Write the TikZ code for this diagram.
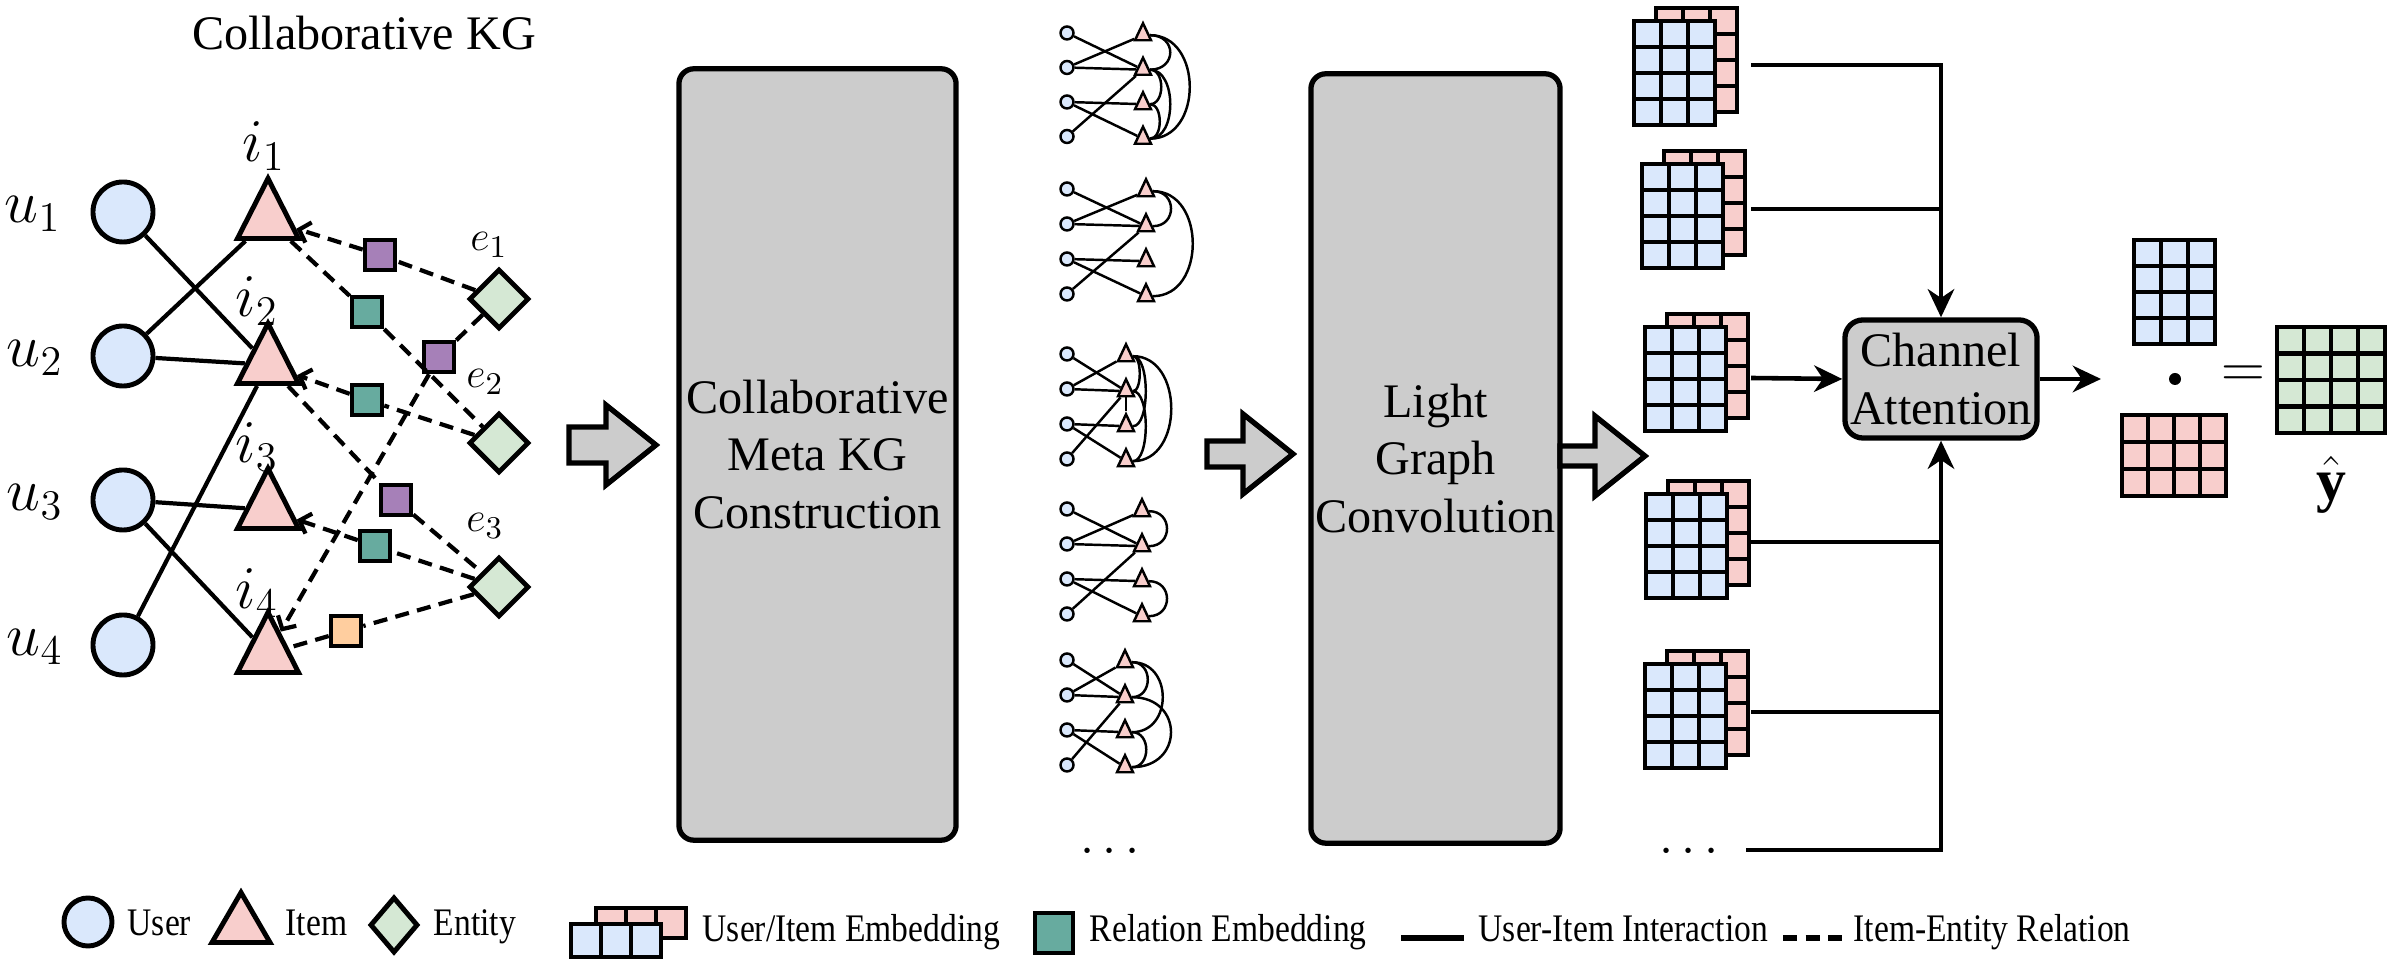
\documentclass[tikz,border=0pt]{standalone}
\usepackage{fontspec}
\setmainfont{Liberation Serif}
\newfontfamily\legenda[FakeStretch=0.86]{Liberation Serif}
\usetikzlibrary{arrows.meta,shapes.geometric}

\definecolor{blu}{HTML}{DAE8FC}
\definecolor{rosa}{HTML}{F8CECC}
\definecolor{verde}{HTML}{D5E8D4}
\definecolor{grigio}{HTML}{CCCCCC}
\definecolor{viola}{HTML}{A680B8}
\definecolor{verdeacqua}{HTML}{67AB9F}
\definecolor{arancio}{HTML}{FFCE9F}

\newcommand{\testo}{\fontsize{13.7}{16.4}\selectfont}

% Griglia: x, y (in alto a sinistra), colonne, righe, cella x, cella y, colore
\newcommand{\griglia}[7]{%
  \filldraw[fill=#7, line width=1.4pt] (#1,#2) rectangle ++(#3*#5,#4*#6);
  \foreach \colonna in {1,...,#3} \draw[line width=1.4pt] ({#1+\colonna*#5},#2) -- ++(0,#4*#6);
  \foreach \riga in {1,...,#4} \draw[line width=1.4pt] (#1,{#2+\riga*#6}) -- ++(#3*#5,0);
}
% Pila di embedding (rosa dietro, blu davanti)
\newcommand{\pila}[2]{%
  \griglia{#1+22}{#2-13}{3}{4}{27}{26}{rosa}
  \griglia{#1}{#2}{3}{4}{27}{26}{blu}
}
% Freccia grigia: coda x, y, lunghezza, mezza asta
\newcommand{\frecciona}[4]{%
  \draw[line width=1.5pt, fill=grigio] (#1,#2-#4) -- (#1+#3-50,#2-#4) -- (#1+#3-50,#2-40)
    -- (#1+#3,#2) -- (#1+#3-50,#2+40) -- (#1+#3-50,#2+#4) -- (#1,#2+#4) -- cycle;
}
% Piccolo grafo utenti-oggetti: nome, x oggetti, y primo, passo
\newcommand{\minigrafo}[4]{%
  \foreach \k in {1,...,4} {
    \node[miniutente] (#1u\k) at (1067,{#3+(\k-1)*#4}) {};
    \node[minioggetto] (#1i\k) at (#2,{#3+(\k-1)*#4+8.5}) {};
  }
  \foreach \a/\b in {1/2,2/1,2/2,3/3,3/4,4/2}
    \draw[minilinea] (#1u\a) -- (#1i\b);
}
% Archi tra oggetti: nome, lista da/a/sporgenza
\newcommand{\archi}[2]{%
  \foreach \a/\b/\ctrl in {#2}
    \draw[minilinea] (#1i\a.east) .. controls +(\ctrl,0) and +(\ctrl,0) .. (#1i\b.east);
}

\tikzset{
  utente/.style={circle, draw, fill=blu, line width=1.4pt, minimum size=0.6cm, inner sep=0pt},
  oggetto/.style={isosceles triangle, isosceles triangle stretches, shape border rotate=90,
    draw, fill=rosa, line width=1.4pt, minimum width=0.61cm, minimum height=0.6cm,
    inner sep=0pt, anchor=lower side},
  entita/.style={diamond, draw, fill=verde, line width=1.4pt, minimum width=0.6cm,
    minimum height=0.6cm, inner sep=0pt},
  relazione/.style={rectangle, draw, line width=1.3pt, minimum size=0.3cm, inner sep=0pt},
  interazione/.style={line width=1.2pt},
  relaz/.style={line width=1.2pt, dash pattern=on 4pt off 2.4pt},
  freccina/.style={-{Straight Barb[length=2.8pt,width=6pt]}},
  etich/.style={font=\fontsize{17}{17}\selectfont, inner sep=0pt},
  etiche/.style={font=\fontsize{13}{13}\selectfont, inner sep=0pt},
  blocco/.style={rectangle, rounded corners=0.15cm, draw, fill=grigio, line width=1.5pt,
    align=center, font=\testo, inner sep=0pt},
  freccia/.style={line width=1.3pt, -{Stealth[length=8pt,width=7.5pt,inset=2.5pt]}},
  miniutente/.style={circle, draw, fill=blu, line width=0.7pt, minimum size=0.13cm, inner sep=0pt},
  minioggetto/.style={oggetto, line width=0.7pt, minimum width=0.16cm, minimum height=0.17cm},
  minilinea/.style={line width=0.7pt},
  leg/.style={font=\legenda\fontsize{11.1}{13}\selectfont, inner sep=0pt, anchor=base west},
}

\begin{document}
\begin{tikzpicture}[x=0.01cm, y=-0.01cm, >=Stealth]
\useasboundingbox (0,0) rectangle (2393,962);

% Titolo
\node[font=\testo] (titolo) at (364,33) {Collaborative KG};

% Utenti
\node[utente] (u1) at (123,212) {};
\node[utente] (u2) at (123,356) {};
\node[utente] (u3) at (123,500) {};
\node[utente] (u4) at (123,645) {};
\node[etich] (lu1) at (33,214) {$u_1$};
\node[etich] (lu2) at (35,358) {$u_2$};
\node[etich] (lu3) at (35,502) {$u_3$};
\node[etich] (lu4) at (35,647) {$u_4$};

% Oggetti
\node[oggetto] (i1) at (268,241) {};
\node[oggetto] (i2) at (268,386) {};
\node[oggetto] (i3) at (268,531) {};
\node[oggetto] (i4) at (268,675) {};
\node[etich] (li1) at (264,146) {$i_1$};
\node[etich] (li2) at (257,301) {$i_2$};
\node[etich] (li3) at (257,447) {$i_3$};
\node[etich] (li4) at (257,593) {$i_4$};

% Entita
\node[entita] (e1) at (499,299) {};
\node[entita] (e2) at (499,443) {};
\node[entita] (e3) at (499,587) {};
\node[etiche] (le1) at (489,245) {$e_1$};
\node[etiche] (le2) at (485,382) {$e_2$};
\node[etiche] (le3) at (485,526) {$e_3$};

% Relazioni
\node[relazione, fill=viola] (r1) at (380,255) {};
\node[relazione, fill=verdeacqua] (r2) at (367,312) {};
\node[relazione, fill=viola] (r3) at (439,357) {};
\node[relazione, fill=verdeacqua] (r4) at (367,400) {};
\node[relazione, fill=viola] (r5) at (396,500) {};
\node[relazione, fill=verdeacqua] (r6) at (375,546) {};
\node[relazione, fill=arancio] (r7) at (346,631) {};

% Interazioni utente-oggetto
\draw[interazione] (u1) -- (i2);
\draw[interazione] (u2) -- (i1);
\draw[interazione] (u2) -- (i2);
\draw[interazione] (u3) -- (i3);
\draw[interazione] (u3) -- (i4);
\draw[interazione] (u4) -- (i2);

% Relazioni oggetto-entita (tratteggiate)
\draw[relaz, freccina] (e1) -- (r1) -- (i1);
\draw[relaz] (i1) -- (r2) -- (e2);
\draw[relaz, freccina] (e1) -- (r3) -- (i4);
\draw[relaz, freccina] (e2) -- (r4) -- (i2);
\draw[relaz] (i2) -- (r5) -- (e3);
\draw[relaz, freccina] (e3) -- (r6) -- (i3);
\draw[relaz] (e3) -- (r7) -- (i4);

% Frecce grigie e blocchi
\frecciona{569}{445}{87}{18}
\node[blocco, minimum width=2.77cm, minimum height=7.71cm] (costr) at (817.5,454.5)
  {Collaborative\\Meta KG\\Construction};
\frecciona{1207}{454}{86}{13}
\node[blocco, minimum width=2.49cm, minimum height=7.69cm] (conv) at (1435.5,458.5)
  {Light\\Graph\\Convolution};
\frecciona{1560}{456}{85}{10}

% Meta KG
\minigrafo{g1}{1143}{33}{34.5}
\archi{g1}{1/2/27, 1/4/53, 2/3/15, 2/4/27, 3/4/13}
\minigrafo{g2}{1146}{189}{35}
\archi{g2}{1/2/24, 1/4/53}
\minigrafo{g3}{1126}{354}{35}
\archi{g3}{1/2/9, 1/3/17, 1/4/51, 2/4/17}
\draw[minilinea] (g3i2) -- (g3i3);
\minigrafo{g4}{1142}{509}{35}
\archi{g4}{1/2/24, 3/4/24}
\minigrafo{g5}{1125}{660}{35}
\archi{g5}{1/2/21, 1/3/41, 2/4/52, 3/4/19}
\node[font=\fontsize{15}{15}\selectfont] (puntini1) at (1110,852) {$\cdots$};

% Embedding per canale
\pila{1634}{21}
\pila{1642}{164}
\pila{1645}{327}
\pila{1646}{494}
\pila{1645}{664}
\node[font=\fontsize{15}{15}\selectfont] (puntini2) at (1689,852) {$\cdots$};

% Channel attention
\node[blocco, rounded corners=0.18cm, minimum width=1.92cm, minimum height=1.18cm] (ca)
  at (1941,379) {Channel\\Attention};
\coordinate (s1) at (1751,65);
\coordinate (s2) at (1751,209);
\coordinate (s3) at (1751,378);
\coordinate (s4) at (1751,542);
\coordinate (s5) at (1751,712);
\coordinate (sd) at (1746,850);
\draw[freccia] (s1) -| (ca.north);
\draw[line width=1.3pt] (s2) -- (s2 -| ca.north);
\draw[freccia] (s3) -- (ca.west);
\draw[freccia] (sd) -| (ca.south);
\draw[line width=1.3pt] (s4) -- (s4 -| ca.south);
\draw[line width=1.3pt] (s5) -- (s5 -| ca.south);
\coordinate (out) at (2101,379);
\draw[freccia] (ca.east) -- (out);

% Prodotto finale
\griglia{2134}{240}{3}{4}{27}{26}{blu}
\griglia{2122}{415}{4}{3}{26}{27}{rosa}
\node[circle, fill, minimum size=0.12cm, inner sep=0pt] (per) at (2175,379) {};
\node[font=\fontsize{19}{19}\selectfont, inner sep=0pt] (uguale) at (2243,377) {$=$};
\griglia{2277}{327}{4}{4}{27}{26.5}{verde}
\node[font=\fontsize{17}{17}\selectfont] (yhat) at (2331,485) {$\hat{\mathbf{y}}$};

% Legenda
\node[utente, minimum size=0.48cm] (lgu) at (88,922) {};
\node[leg] (lgut) at (127,936) {User};
\node[oggetto, minimum width=0.58cm, minimum height=0.5cm] (lgi) at (241,945) {};
\node[leg] (lgit) at (285,936) {Item};
\node[entita, minimum width=0.48cm, minimum height=0.56cm] (lge) at (394,925) {};
\node[leg] (lget) at (433,936) {Entity};
\griglia{596}{908}{3}{1}{30}{30}{rosa}
\griglia{571}{924}{3}{1}{30}{33}{blu}
\node[leg] (lgemb) at (702,942) {User/Item Embedding};
\node[relazione, fill=verdeacqua, minimum width=0.38cm, minimum height=0.4cm] (lgr) at (1054,933) {};
\node[leg] (lgrt) at (1089,942) {Relation Embedding};
\coordinate (lgs1) at (1401,938);
\coordinate (lgs2) at (1464,938);
\draw[line width=1.6pt] (lgs1) -- (lgs2);
\node[leg] (lgst) at (1478,942) {User-Item Interaction};
\coordinate (lgd1) at (1783,938);
\coordinate (lgd2) at (1846,938);
\draw[relaz, line width=1.6pt] (lgd1) -- (lgd2);
\node[leg] (lgdt) at (1853,942) {Item-Entity Relation};

\end{tikzpicture}
\end{document}
